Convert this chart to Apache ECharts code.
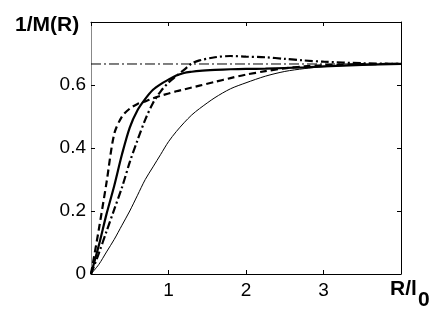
<!DOCTYPE html>
<html><head><meta charset="utf-8">
<script src="https://cdn.jsdelivr.net/npm/echarts@6/dist/echarts.min.js"></script>
<style>html,body{margin:0;padding:0;background:#fff}#c{width:436px;height:310px}</style>
</head><body><div id="c"></div>
<script>
const xs = [0,0.1,0.2,0.3,0.4,0.5,0.6,0.7,0.8,0.9,1.0,1.1,1.2,1.3,1.4,1.6,1.8,2.0,2.25,2.5,2.75,3.0,3.5,4.0];
const thinSolid = [0,0.03,0.07,0.11,0.155,0.2,0.25,0.3,0.34,0.38,0.42,0.452,0.48,0.505,0.525,0.56,0.588,0.607,0.628,0.643,0.652,0.658,0.664,0.666];
const thickSolid = [0,0.09,0.19,0.28,0.38,0.465,0.52,0.556,0.585,0.603,0.617,0.63,0.638,0.642,0.645,0.648,0.65,0.651,0.652,0.654,0.656,0.659,0.664,0.667];
const thickDashed = [0,0.14,0.29,0.445,0.5,0.525,0.54,0.548,0.558,0.566,0.573,0.58,0.586,0.592,0.598,0.61,0.622,0.633,0.644,0.653,0.659,0.663,0.666,0.667];
const thickDashDot = [0,0.065,0.135,0.205,0.275,0.355,0.425,0.49,0.543,0.58,0.608,0.628,0.648,0.668,0.678,0.688,0.692,0.69,0.688,0.683,0.678,0.674,0.669,0.667];
const asymptoteX = [0, 4];
const asymptoteY = [0.6667, 0.6667];
const xTickLabels = {1:'1',2:'2',3:'3'};
const yTickLabels = {0:'0',0.2:'0.2',0.4:'0.4',0.6:'0.6'};

const pair = (xa, ya) => xa.map((x, i) => [x, ya[i]]);
const FONT = 'Liberation Sans';
const chart = echarts.init(document.getElementById('c'), null, {renderer:'canvas'});
const tickStyle = {show:true, inside:true, length:4, lineStyle:{color:'#000', width:1}};
chart.setOption({
  animation:false,
  grid:{left:91, right:35, top:22, bottom:36},
  xAxis:[
    {type:'value', min:0, max:4, interval:1, position:'bottom',
     axisLine:{show:true, onZero:false, lineStyle:{color:'#000', width:1}},
     axisTick:tickStyle, splitLine:{show:false},
     axisLabel:{margin:7, color:'#000', fontSize:19, fontFamily:FONT,
       formatter:v => xTickLabels[v] || ''}},
    {type:'value', min:0, max:4, interval:1, position:'top',
     axisLine:{show:true, onZero:false, lineStyle:{color:'#000', width:1}},
     axisTick:tickStyle, splitLine:{show:false}, axisLabel:{show:false}}
  ],
  yAxis:[
    {type:'value', min:0, max:0.8, interval:0.2, position:'left',
     axisLine:{show:true, onZero:false, lineStyle:{color:'#888', width:1}},
     axisTick:tickStyle, splitLine:{show:false},
     axisLabel:{margin:5, color:'#000', fontSize:19, fontFamily:FONT,
       formatter:v => { const k = Math.round(v*10)/10; return yTickLabels[k] !== undefined ? yTickLabels[k] : ''; }}},
    {type:'value', min:0, max:0.8, interval:0.2, position:'right',
     axisLine:{show:true, onZero:false, lineStyle:{color:'#000', width:1}},
     axisTick:tickStyle, splitLine:{show:false}, axisLabel:{show:false}}
  ],
  graphic:[
    {type:'text', left:15, top:15, style:{text:'1/M(R)', fontSize:21, fontWeight:'bold', fontFamily:FONT, fill:'#000'}},
    {type:'text', left:390, top:279, style:{text:'R/l', fontSize:21, fontWeight:'bold', fontFamily:FONT, fill:'#000'}},
    {type:'text', left:418, top:290, style:{text:'0', fontSize:21, fontWeight:'bold', fontFamily:FONT, fill:'#000'}}
  ],
  series:[
    {type:'line', data:pair(asymptoteX, asymptoteY), showSymbol:false, silent:true,
     lineStyle:{color:'#000', width:1, type:[10,3,2,3]}},
    {type:'line', data:pair(xs, thinSolid), showSymbol:false, smooth:0.3,
     lineStyle:{color:'#000', width:1}},
    {type:'line', data:pair(xs, thickDashed), showSymbol:false, smooth:0.3,
     lineStyle:{color:'#000', width:2.2, type:[7,4]}},
    {type:'line', data:pair(xs, thickSolid), showSymbol:false, smooth:0.3,
     lineStyle:{color:'#000', width:2.2}},
    {type:'line', data:pair(xs, thickDashDot), showSymbol:false, smooth:0.3,
     lineStyle:{color:'#000', width:2.2, type:[8,3,2,3]}}
  ]
});
</script></body></html>
